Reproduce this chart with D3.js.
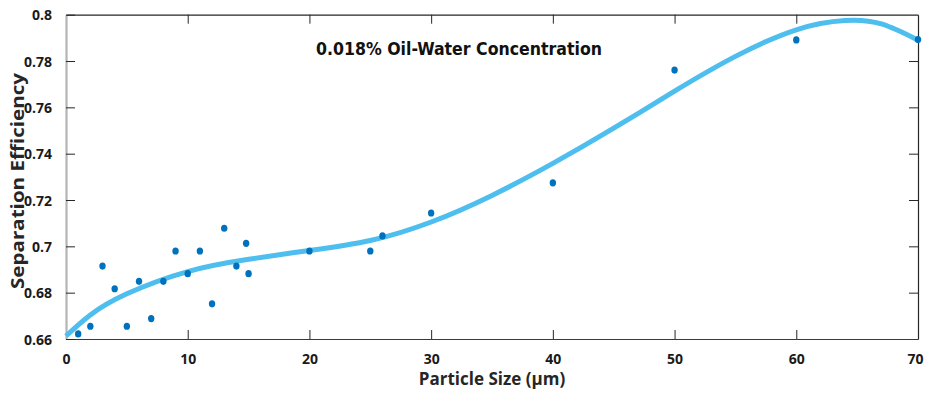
<!DOCTYPE html>
<html>
<head>
<meta charset="utf-8">
<script src="https://cdn.jsdelivr.net/npm/d3@7"></script>
<style>
  html, body { margin: 0; padding: 0; background: #ffffff; }
  svg { display: block; }
  .tick-label { font-family: "Open Sans", "Noto Sans", sans-serif; font-weight: 700; font-size: 14px; fill: #1a1a1a; }
</style>
</head>
<body>
<svg id="chart" width="925" height="394"></svg>
<script>
// Measured separation efficiency per particle size
const sizes = [1, 2, 3, 4, 5, 6, 7, 8, 9, 10, 11, 12, 13, 14, 14.8, 15, 20, 25, 26, 30, 40, 50, 60, 70];
const efficiency = [0.6622, 0.6655, 0.6915, 0.6817, 0.6655, 0.6849, 0.6688, 0.6849, 0.698, 0.6882,
                    0.698, 0.6752, 0.7078, 0.6915, 0.7013, 0.6882, 0.698, 0.698, 0.7045, 0.7144,
                    0.7274, 0.7761, 0.7891, 0.7893];

// Fitted trend curve, sampled along particle size
const fitSizes = [0, 2, 5, 10, 15, 20, 25, 30, 35, 40, 45, 50, 55, 60, 64, 67, 70];
const fitValues = [0.6613, 0.6704, 0.6795, 0.6891, 0.6944, 0.6982, 0.7025, 0.7105, 0.7220, 0.7358,
                   0.7510, 0.7670, 0.7820, 0.7935, 0.7975, 0.7960, 0.7890];

const xTicks = [0, 10, 20, 30, 40, 50, 60, 70];
const yTicks = [0.66, 0.68, 0.70, 0.72, 0.74, 0.76, 0.78, 0.80];

const W = 925, H = 394;
const margin = { top: 14.7, right: 7, bottom: 55, left: 66 };
const iw = W - margin.left - margin.right;
const ih = H - margin.top - margin.bottom;

const svg = d3.select("#chart");
const g = svg.append("g").attr("transform", `translate(${margin.left},${margin.top})`);

const x = d3.scaleLinear().domain([0, 70]).range([0, iw]);
const y = d3.scaleLinear().domain([0.66, 0.80]).range([ih, 0]);

const fmtY = v => String(+v.toFixed(2));
const tickLen = 9;

// Bottom axis (ticks point inward)
const xAxis = g.append("g").attr("transform", `translate(0,${ih})`)
  .call(d3.axisBottom(x).tickValues(xTicks).tickSizeInner(-tickLen).tickSizeOuter(0).tickPadding(15).tickFormat(d3.format("d")));
xAxis.select(".domain").attr("stroke", "#3a3a3a").attr("stroke-width", 1.2);
xAxis.selectAll(".tick line").attr("stroke", "#262626");
xAxis.selectAll(".tick text").attr("class", "tick-label").attr("fill", "#1a1a1a")
  .attr("dx", d => d === 70 ? -3 : 0);

// Left axis
const yAxis = g.append("g")
  .call(d3.axisLeft(y).tickValues(yTicks).tickSizeInner(-tickLen).tickSizeOuter(0).tickPadding(14).tickFormat(fmtY));
yAxis.select(".domain").attr("stroke", "#b4b4b4").attr("stroke-width", 2.2);
yAxis.selectAll(".tick line").attr("stroke", "#262626");
yAxis.selectAll(".tick text").attr("class", "tick-label").attr("fill", "#1a1a1a").attr("dy", "0.36em");

// Top and right frame with inward ticks
const topAxis = g.append("g")
  .call(d3.axisTop(x).tickValues(xTicks.filter(v => v > 0 && v < 70)).tickSizeInner(-tickLen).tickSizeOuter(0).tickFormat(""));
topAxis.select(".domain").attr("stroke", "#262626").attr("stroke-width", 1.2);
topAxis.selectAll(".tick line").attr("stroke", "#262626");

const rightAxis = g.append("g").attr("transform", `translate(${iw},0)`)
  .call(d3.axisRight(y).tickValues(yTicks.filter(v => v > 0.66 && v < 0.8)).tickSizeInner(-tickLen).tickSizeOuter(0).tickFormat(""));
rightAxis.select(".domain").attr("stroke", "#262626").attr("stroke-width", 1.2);
rightAxis.selectAll(".tick line").attr("stroke", "#262626");

// Trend curve
const line = d3.line()
  .x((d, i) => x(fitSizes[i]))
  .y(d => y(d))
  .curve(d3.curveNatural);

g.append("path")
  .datum(fitValues)
  .attr("d", line)
  .attr("fill", "none")
  .attr("stroke", "#4DBEEE")
  .attr("stroke-width", 5)
  .attr("stroke-linecap", "butt");

// Measured points
g.selectAll("ellipse.pt")
  .data(sizes.map((s, i) => [s, efficiency[i]]))
  .join("ellipse")
  .attr("class", "pt")
  .attr("cx", d => x(d[0]))
  .attr("cy", d => y(d[1]))
  .attr("rx", 3.2)
  .attr("ry", 3.6)
  .attr("fill", "#0072BD");

// Title inside the plot
svg.append("text")
  .attr("x", 459)
  .attr("y", 55)
  .attr("text-anchor", "middle")
  .attr("font-family", "'DejaVu Sans Condensed', 'DejaVu Sans', sans-serif")
  .attr("font-weight", 700)
  .attr("font-size", 18)
  .attr("textLength", 286)
  .attr("lengthAdjust", "spacingAndGlyphs")
  .attr("fill", "#111")
  .text("0.018% Oil-Water Concentration");

// Axis titles
svg.append("text")
  .attr("x", margin.left + iw / 2)
  .attr("y", 385)
  .attr("text-anchor", "middle")
  .attr("font-family", "'Open Sans', 'Noto Sans', sans-serif")
  .attr("font-weight", 700)
  .attr("font-size", 17)
  .attr("fill", "#262626")
  .text("Particle Size (μm)");

svg.append("text")
  .attr("transform", "translate(24,181) rotate(-90)")
  .attr("text-anchor", "middle")
  .attr("font-family", "'Open Sans', 'Noto Sans', sans-serif")
  .attr("font-weight", 700)
  .attr("font-size", 18)
  .attr("textLength", 216)
  .attr("lengthAdjust", "spacingAndGlyphs")
  .attr("fill", "#262626")
  .text("Separation Efficiency");
</script>
</body>
</html>
